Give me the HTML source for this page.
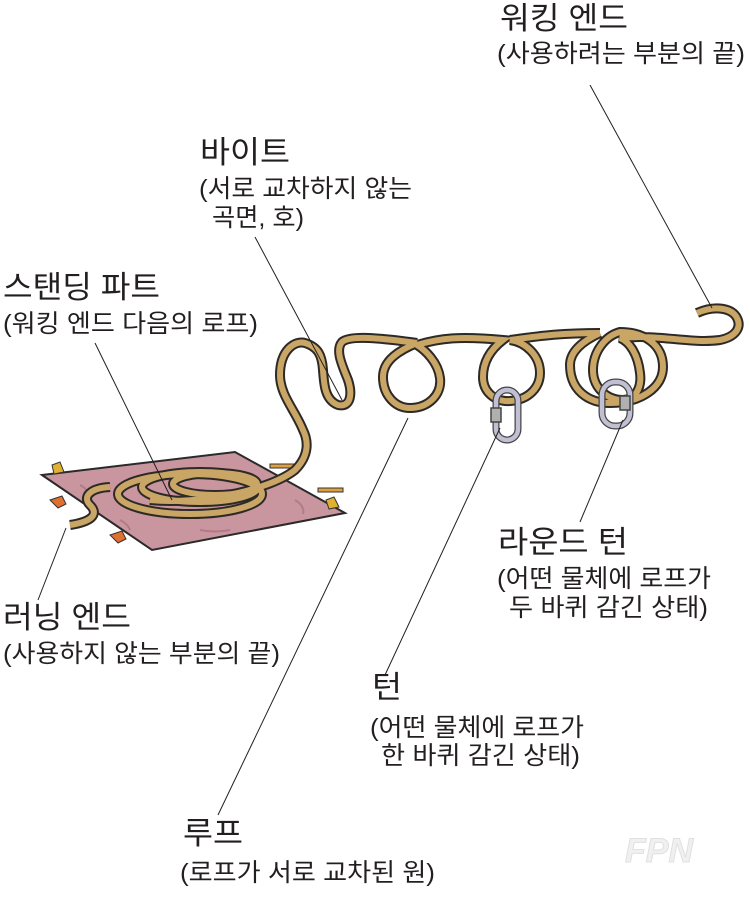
<!DOCTYPE html>
<html><head><meta charset="utf-8"><style>
html,body{margin:0;padding:0;background:#fff}
svg text{font-family:"Liberation Sans","Noto Sans CJK KR",sans-serif;fill:#231f20}
.t{font-size:31px}.s{font-size:25px}
</style></head><body>
<svg width="750" height="901" viewBox="0 0 750 901" xmlns="http://www.w3.org/2000/svg">
<!-- tarp -->
<polygon points="42,475 235,452 345,513 152,550" fill="#c9959f" stroke="#2a2a2a" stroke-width="2"/>
<g stroke="#a8707c" stroke-width="2" fill="none" opacity="0.7">
<path d="M80,485 q10,5 5,12"/><path d="M295,500 q10,6 8,14"/><path d="M200,530 q15,3 30,0"/><path d="M120,520 q8,4 10,10"/>
</g>
<!-- pegs -->
<g fill="#e07030" stroke="#333" stroke-width="1">
<path d="M50,500 l12,-4 l4,8 l-8,4z"/><path d="M110,535 l12,-4 l4,8 l-8,4z"/>
<rect x="270" y="464" width="25" height="4" fill="#e0a040"/><rect x="318" y="488" width="25" height="4" fill="#e0a040"/>
<path d="M52,465 l8,-3 l4,10 l-10,2z" fill="#e0b030"/><path d="M326,500 l8,-3 l5,10 l-10,2z" fill="#e0b030"/>
</g>
<!-- rope -->
<g fill="none" stroke-linecap="round" stroke-linejoin="round">
<g id="rope" >
<path d="M70,525 C90,522 100,515 90,505 C82,497 90,488 110,487"/>
<ellipse cx="190" cy="494" rx="72" ry="20"/>
<ellipse cx="200" cy="487" rx="58" ry="15"/>
<ellipse cx="215" cy="484" rx="42" ry="11"/>
<path d="M150,500 C200,505 270,490 295,470 C310,455 308,440 303,430 C295,410 280,395 280,375 C280,350 295,340 305,343 C318,347 322,355 323,370 C324,385 325,400 338,405 C352,408 352,392 348,380 C342,365 335,350 342,342 C350,335 380,338 417,343"/>
<path d="M417,343 C400,350 383,360 383,377 C383,395 395,408 410,408 C428,408 442,395 440,378 C438,362 425,350 417,345 C440,338 460,336 503,340 C490,350 483,362 483,377 C483,392 495,402 510,401 C528,400 540,388 540,373 C540,355 525,342 510,340 C540,336 560,333 600,333"/>
<path d="M600,333 C585,340 570,350 570,365 C570,390 588,403 610,403 C640,403 663,388 663,367 C663,345 645,332 620,332 C605,336 593,352 593,370 C593,388 607,400 623,400 C635,400 642,388 640,373 C638,355 630,342 620,338 C660,334 690,344 720,340 C735,337 742,328 737,318 C732,308 715,305 697,313"/>
</g>
</g>
<use href="#rope" stroke="#2d2a26" stroke-width="10" fill="none"/>
<use href="#rope" stroke="#c9a566" stroke-width="6" fill="none"/>
<!-- carabiners -->
<g stroke="#444" stroke-width="1.5">
<rect x="496" y="390" width="22" height="50" rx="11" fill="none" stroke="#444" stroke-width="7"/>
<rect x="496" y="390" width="22" height="50" rx="11" fill="none" stroke="#c0bfd4" stroke-width="4.5"/>
<rect x="491" y="408" width="10" height="14" fill="#b0b0b0"/>
<rect x="602" y="382" width="28" height="44" rx="13" fill="none" stroke="#444" stroke-width="7"/>
<rect x="602" y="382" width="28" height="44" rx="13" fill="none" stroke="#c0bfd4" stroke-width="4.5"/>
<rect x="620" y="396" width="10" height="14" fill="#b0b0b0"/>
</g>
<!-- leader lines -->
<g stroke="#231f20" stroke-width="1">
<line x1="590" y1="85" x2="712" y2="308"/>
<line x1="255" y1="237" x2="342" y2="400"/>
<line x1="95" y1="343" x2="172" y2="500"/>
<line x1="66" y1="528" x2="38" y2="600"/>
<line x1="408" y1="418" x2="218" y2="815"/>
<line x1="500" y1="428" x2="385" y2="675"/>
<line x1="623" y1="420" x2="580" y2="522"/>
</g>
<!-- labels -->
<g lengthAdjust="spacingAndGlyphs">
<text class="t" x="500" y="29" textLength="128" lengthAdjust="spacingAndGlyphs">워킹 엔드</text>
<text class="s" x="497" y="62" textLength="248" lengthAdjust="spacingAndGlyphs">(사용하려는 부분의 끝)</text>
<text class="t" x="200" y="163" textLength="90" lengthAdjust="spacingAndGlyphs">바이트</text>
<text class="s" x="199" y="197" textLength="213" lengthAdjust="spacingAndGlyphs">(서로 교차하지 않는</text>
<text class="s" x="212" y="226" textLength="92" lengthAdjust="spacingAndGlyphs">곡면, 호)</text>
<text class="t" x="3" y="298" textLength="157" lengthAdjust="spacingAndGlyphs">스탠딩 파트</text>
<text class="s" x="3" y="332" textLength="255" lengthAdjust="spacingAndGlyphs">(워킹 엔드 다음의 로프)</text>
<text class="t" x="3" y="628" textLength="128" lengthAdjust="spacingAndGlyphs">러닝 엔드</text>
<text class="s" x="3" y="662" textLength="277" lengthAdjust="spacingAndGlyphs">(사용하지 않는 부분의 끝)</text>
<text class="t" x="498" y="553" textLength="130" lengthAdjust="spacingAndGlyphs">라운드 턴</text>
<text class="s" x="497" y="587" textLength="214" lengthAdjust="spacingAndGlyphs">(어떤 물체에 로프가</text>
<text class="s" x="509" y="616" textLength="199" lengthAdjust="spacingAndGlyphs">두 바퀴 감긴 상태)</text>
<text class="t" x="372" y="698" textLength="30" lengthAdjust="spacingAndGlyphs">턴</text>
<text class="s" x="370" y="736" textLength="214" lengthAdjust="spacingAndGlyphs">(어떤 물체에 로프가</text>
<text class="s" x="381" y="764" textLength="199" lengthAdjust="spacingAndGlyphs">한 바퀴 감긴 상태)</text>
<text class="t" x="183" y="844" textLength="60" lengthAdjust="spacingAndGlyphs">루프</text>
<text class="s" x="180" y="881" textLength="255" lengthAdjust="spacingAndGlyphs">(로프가 서로 교차된 원)</text>
</g>
<text x="625" y="862" style="font-size:34px;font-style:italic;font-weight:bold;fill:#f0f0f0;stroke:#e0e0e0">FPN</text>
</svg>
</body></html>
